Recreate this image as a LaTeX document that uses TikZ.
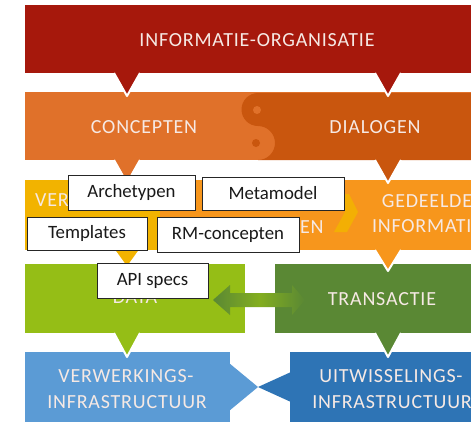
\documentclass[tikz,border=0pt]{standalone}
\usepackage{fontspec}
\setmainfont{Carlito}
\definecolor{cRed}{HTML}{A6180C}
\definecolor{cOrL}{HTML}{E0712A}
\definecolor{cOrD}{HTML}{C9560E}
\definecolor{cYel}{HTML}{F2B300}
\definecolor{cOr3}{HTML}{F7961C}
\definecolor{cGrL}{HTML}{95BE16}
\definecolor{cGrD}{HTML}{5A8834}
\definecolor{cBlL}{HTML}{5B9BD5}
\definecolor{cBlD}{HTML}{2E74B5}
\definecolor{cTxt}{HTML}{F6E9E4}
\tikzset{
  bandtxt/.style={text=cTxt, inner sep=0pt, font=\fontsize{20}{20}\selectfont\addfontfeatures{LetterSpace=4}},
  wbox/.style={draw=black!85, line width=1pt, fill=white, inner sep=0pt, text=black!90, font=\fontsize{18.8}{18.8}\selectfont},
  pointer/.style={draw=white, line width=2pt, line join=round}
}
\begin{document}
\begin{tikzpicture}[x=1pt,y=-1pt]
\useasboundingbox (0,0) rectangle (471,426);
\fill[white] (0,0) rectangle (471,426);

% row 1
\fill[cRed] (25,5) rectangle (471,73);
% row 2
\fill[cOrL] (25,92) rectangle (471,160);
\fill[cOrD] (258,93) -- (471,93) -- (471,160) -- (258,160)
   arc[start angle=90, end angle=-90, radius=17] -- (258,126)
   arc[start angle=90, end angle=270, radius=16.5] -- cycle;
\fill[cOrL] (257,110) circle (4);
\fill[cOrD] (256,143) circle (4);
% row 3
\fill[cYel] (25,180) rectangle (160,250);
\fill[cOr3] (160,180) rectangle (471,250);
\fill[cYel!85!cOr3] (340,194) -- (349,194) -- (358,212) -- (347,232) -- (334,232) -- (345,212) -- cycle;
% row 4
\fill[cGrL] (25,264) rectangle (245,333);
\fill[cGrD] (275,264) rectangle (471,333);
% row 5
\fill[cBlL] (25,352) rectangle (230,422);
\fill[cBlD] (290,352) rectangle (471,422);
\fill[cBlL] (229,363) -- (258,387) -- (229,411) -- cycle;
\fill[cBlD] (291,372) -- (258,387) -- (291,402) -- cycle;

% pointers
\filldraw[pointer, fill=cRed] (114,73) -- (127,96) -- (140,73);
\filldraw[pointer, fill=cRed] (375,73) -- (388,96) -- (401,73);
\filldraw[pointer, fill=cOrL] (114,160) -- (127,183) -- (140,160);
\filldraw[pointer, fill=cOrD] (375,160) -- (388,183) -- (401,160);
\filldraw[pointer, fill=cYel] (114,250) -- (127,268) -- (140,250);
\filldraw[pointer, fill=cOr3] (375,250) -- (388,271) -- (401,250);
\filldraw[pointer, fill=cGrL] (114,333) -- (127,357) -- (140,333);
\filldraw[pointer, fill=cGrD] (375,333) -- (388,357) -- (401,333);

% double arrow
\coordinate (dl) at (213,300);
\coordinate (dr) at (305,300);
\shade[left color=cGrD, right color=cGrD, middle color=cGrL!70!cGrD]
  (dl) -- (230,285) -- (230,293) -- (292,293) -- (292,285) -- (dr)
  -- (292,315) -- (292,307) -- (230,307) -- (230,315) -- cycle;

% band texts
\node[bandtxt] (io) at (257,40) {INFORMATIE-ORGANISATIE};
\node[bandtxt] (con) at (144,127) {CONCEPTEN};
\node[bandtxt] (dia) at (375,127) {DIALOGEN};
\node[bandtxt, anchor=west] (ver) at (35,200) {VER};
\node[bandtxt, anchor=west] (en) at (300,227) {EN};
\node[bandtxt] (ged1) at (427,201) {GEDEELDE};
\node[bandtxt] (ged2) at (427,226) {INFORMATIE};
\node[bandtxt] (data) at (135,297) {DATA};
\node[bandtxt] (tra) at (382,299) {TRANSACTIE};
\node[bandtxt] (vw1) at (126,376) {VERWERKINGS-};
\node[bandtxt] (vw2) at (127,402) {INFRASTRUCTUUR};
\node[bandtxt] (uw1) at (391,376) {UITWISSELINGS-};
\node[bandtxt] (uw2) at (392,402) {INFRASTRUCTUUR};

% white boxes
\node[wbox, minimum width=127pt, minimum height=35pt] (arch) at (131.5,192.5) {Archetypen};
\node[wbox, minimum width=142pt, minimum height=33pt] (meta) at (273,193.5) {Metamodel};
\node[wbox, minimum width=120pt, minimum height=33pt] (tmpl) at (87,233.5) {Templates};
\node[wbox, minimum width=142pt, minimum height=35pt] (rmc) at (228,234.5) {RM-concepten};
\node[wbox, minimum width=111pt, minimum height=35pt] (api) at (152.5,280.5) {API specs};
\end{tikzpicture}
\end{document}
